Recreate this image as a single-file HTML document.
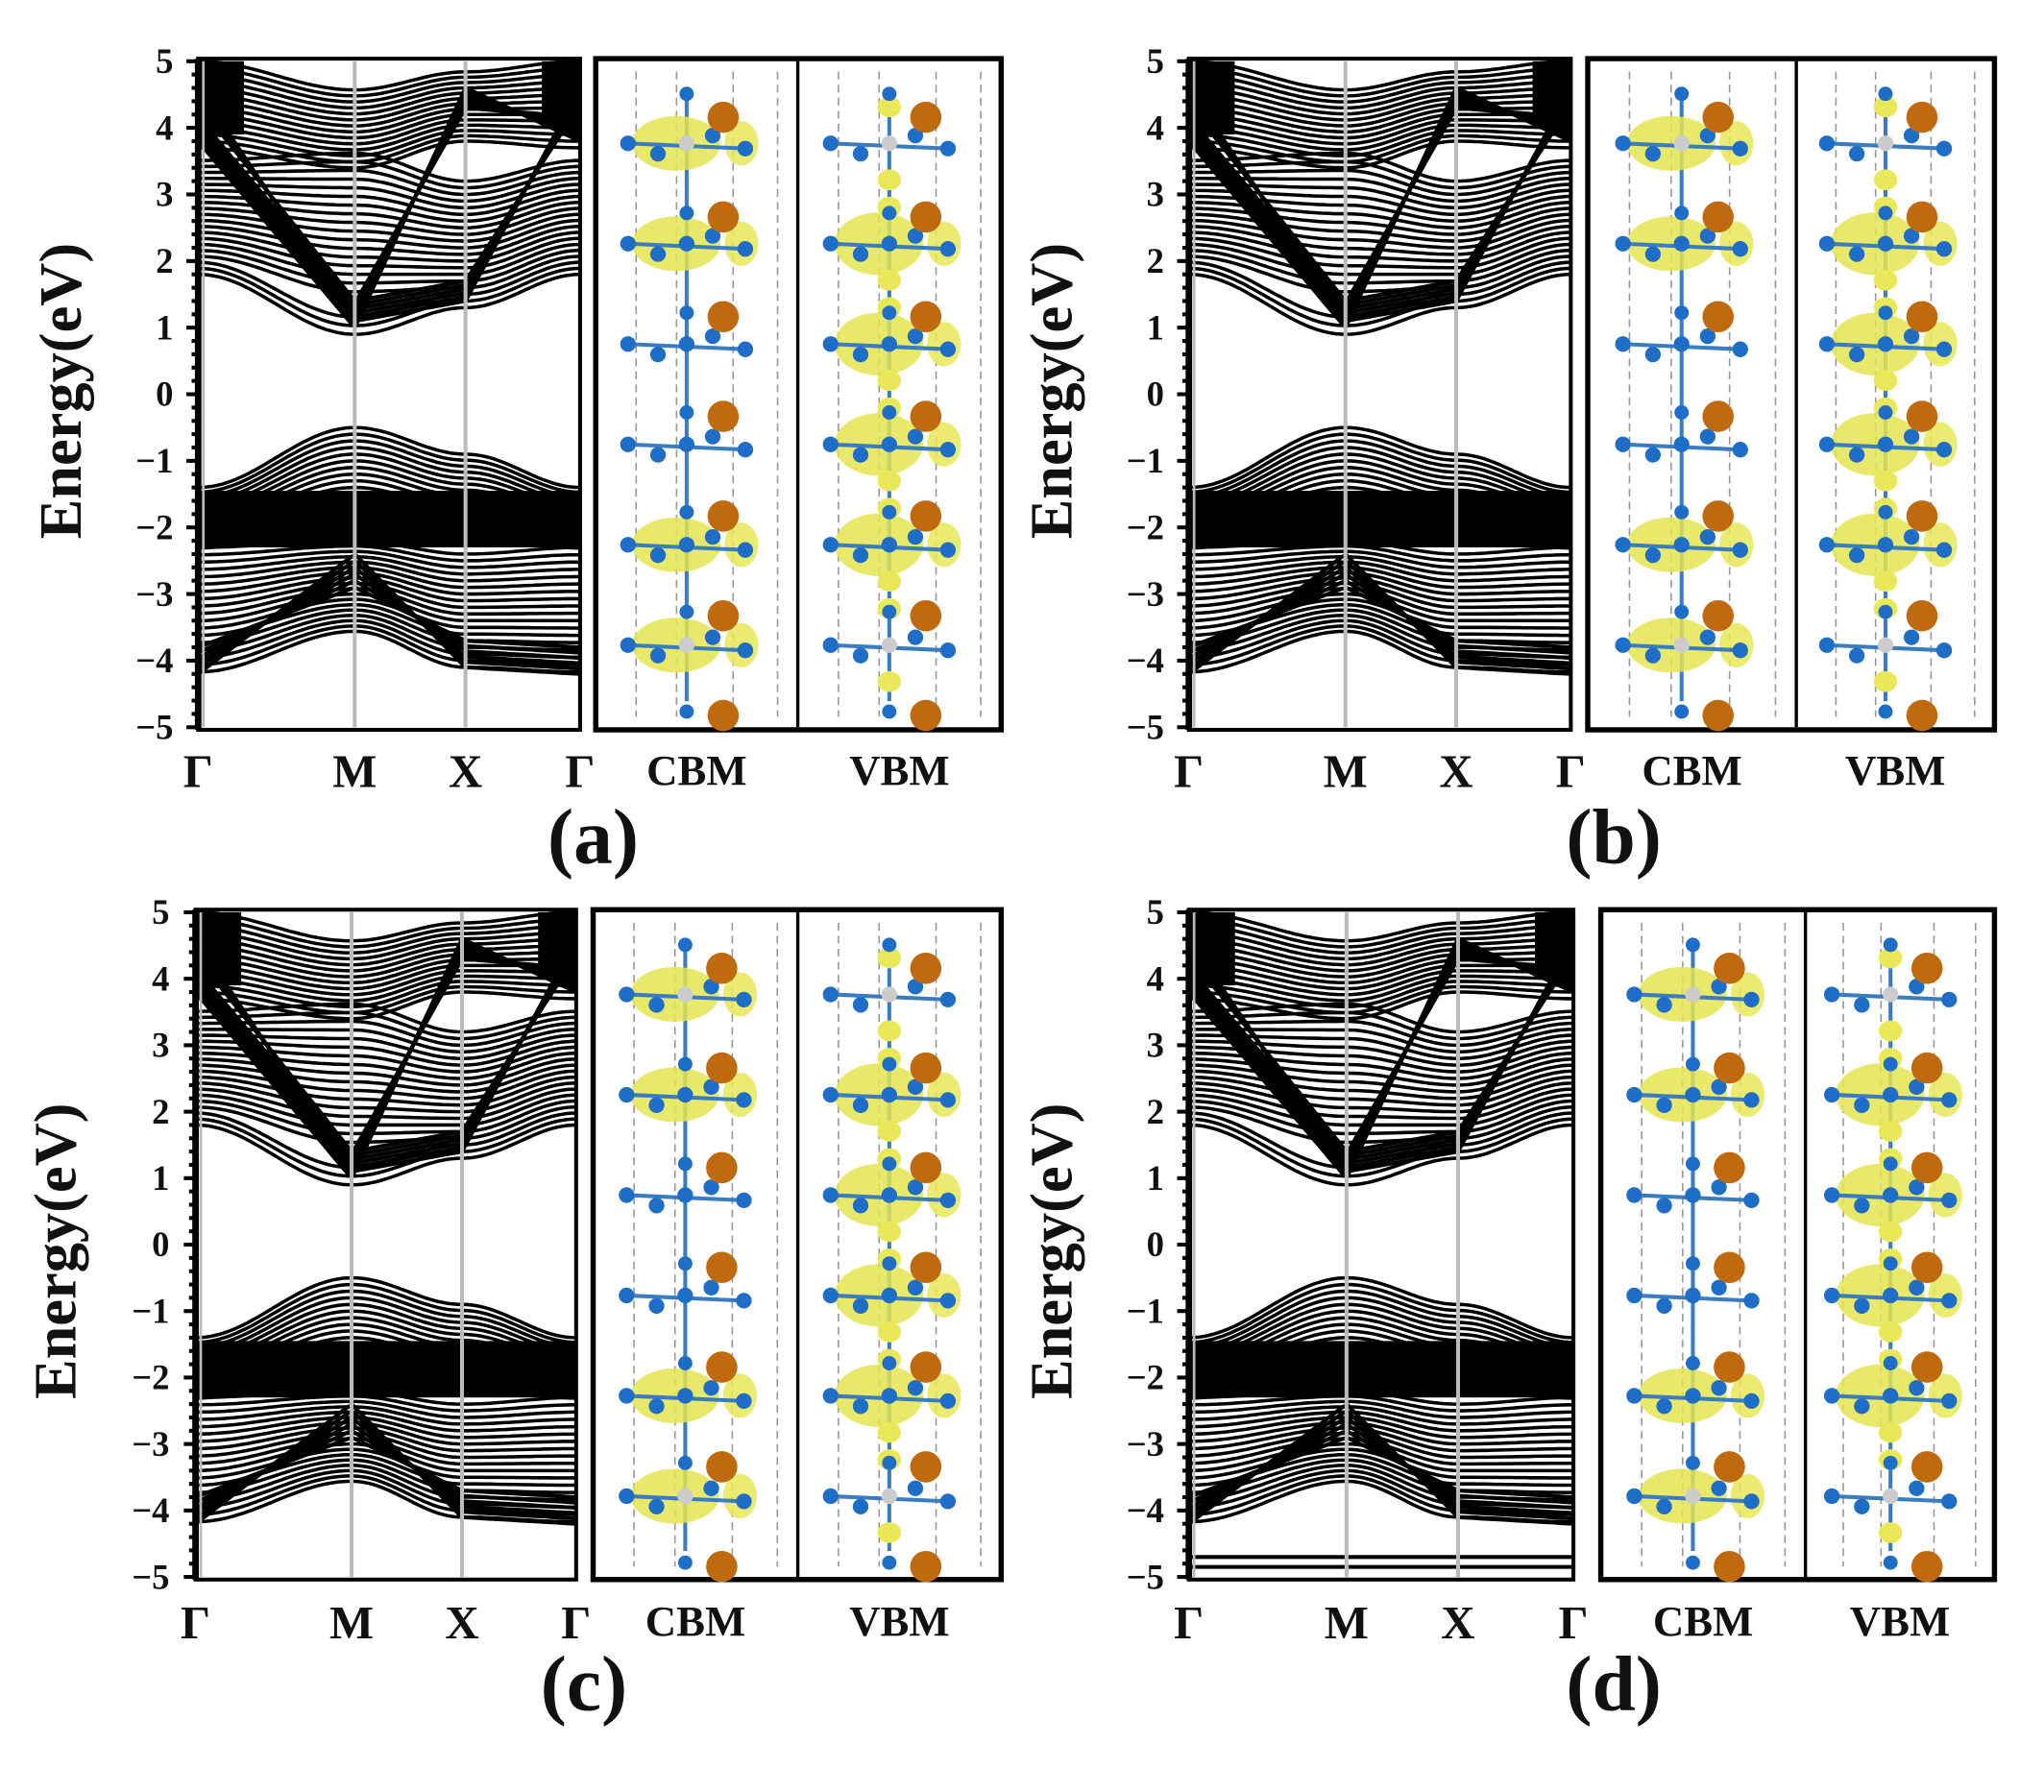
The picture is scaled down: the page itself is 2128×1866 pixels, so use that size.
<!DOCTYPE html>
<html><head><meta charset="utf-8"><style>
html,body{margin:0;padding:0;background:#fff;}
svg{display:block;}
text{font-family:"Liberation Serif","Times New Roman",serif;font-weight:bold;fill:#111;}
</style></head><body>
<svg id="s" width="2128" height="1866" viewBox="0 0 1568 1375" preserveAspectRatio="none" xmlns="http://www.w3.org/2000/svg">
<rect width="1568" height="1375" fill="#fff"/>
<g id="g"></g>
</svg>
<script>
const NS="http://www.w3.org/2000/svg";
const g=document.getElementById('g');
function el(t,a,txt){const e=document.createElementNS(NS,t);for(const k in a)e.setAttribute(k,a[k]);if(txt!==undefined)e.textContent=txt;g.appendChild(e);return e;}
const P=[
 {x0:152,x1:445,y0:47,y1:558,b0:457,b1:768,dv:612,ly:592,L:'a',lx:455,lyy:650,ex:62,ey:300,tx:133},
 {x0:912,x1:1205,y0:47,y1:558,b0:1218,b1:1530,dv:1378,ly:592,L:'b',lx:1238,lyy:650,ex:822,ey:300,tx:893},
 {x0:150,x1:442,y0:700,y1:1210,b0:455,b1:768,dv:612,ly:1245,L:'c',lx:448,lyy:1300,ex:58,ey:960,tx:130},
 {x0:912,x1:1207,y0:700,y1:1210,b0:1228,b1:1530,dv:1385,ly:1245,L:'d',lx:1238,lyy:1300,ex:822,ey:960,tx:893}
];
function interp(t,a,b,c){const km=.41,kx=.70;let u,p,q;
  if(t<=km){u=t/km;p=a;q=b;}else if(t<=kx){u=(t-km)/(kx-km);p=b;q=c;}else{u=(t-kx)/(1-kx);p=c;q=a;}
  const s=(1-Math.cos(Math.PI*u))/2;return p+(q-p)*s;}
function lin(t,a,b,c){const km=.41,kx=.70;let u,p,q;
  if(t<=km){u=t/km;p=a;q=b;}else if(t<=kx){u=(t-km)/(kx-km);p=b;q=c;}else{u=(t-kx)/(1-kx);p=c;q=a;}
  return p+(q-p)*u;}
function band(p,f,w){const Y=e=>p.y0+(5-e)*(p.y1-p.y0)/10;let d='';
  for(let i=0;i<=80;i++){const t=i/80;let e=f(t);e=Math.max(-5,Math.min(5,e));
    d+=(i?'L':'M')+(p.x0+t*(p.x1-p.x0)).toFixed(1)+' '+Y(e).toFixed(1);}
  el('path',{d:d,fill:'none',stroke:'#000','stroke-width':w||2.6});}
P.forEach((p,pi)=>{
  const W=p.x1-p.x0,Y=e=>p.y0+(5-e)*(p.y1-p.y0)/10;
  // dense top near Γ
  for(let n=0;n<14;n++){const a=3.7+n*0.1,b=3.4+n*0.09,c=3.8+n*0.08;band(p,t=>interp(t,a,b,c),2.6);}
  el('rect',{x:p.x0,y:Y(5),width:W*0.12,height:Y(3.9)-Y(5),fill:'#000'});
  el('rect',{x:p.x0+W*0.9,y:Y(5),width:W*0.1,height:Y(4.0)-Y(5),fill:'#000'});
  // conduction bands
  for(let n=0;n<20;n++){const a=1.8+n*0.09,b=0.9+n*0.13+(n>2?0.25:0),c=1.3+n*0.1;band(p,t=>interp(t,a,b,c));}
  for(let n=0;n<7;n++){band(p,t=>lin(t,3.8+n*0.06,1.0+n*0.06,4.6-n*0.05),3);}
  for(let n=0;n<6;n++){band(p,t=>lin(t,4.6-n*0.05,1.1+n*0.06,1.4+n*0.06),3);}
  // valence bands
  for(let n=0;n<14;n++){const a=-1.4-n*0.07,b=-0.5-n*0.1,c=-0.9-n*0.09;band(p,t=>interp(t,a,b,c));}
  el('rect',{x:p.x0,y:Y(-1.45),width:W,height:Y(-2.3)-Y(-1.45),fill:'#000'});
  for(let n=0;n<18;n++){const a=-2.3-n*0.11,b=-2.2-n*0.08,c=-2.4-n*0.1;band(p,t=>interp(t,a,b,c));}
  for(let n=0;n<6;n++){band(p,t=>lin(t,-4.2+n*0.08,-2.4-n*0.1,-4.1+n*0.08),3);}
  if(pi==3){band(p,t=>-4.7,3);band(p,t=>-4.85,3);}
  [0.41,0.70].forEach(k=>el('line',{x1:p.x0+k*W,x2:p.x0+k*W,y1:p.y0,y2:p.y1,stroke:'#bbb','stroke-width':3}));
  el('line',{x1:p.x0+4,x2:p.x0+4,y1:p.y0,y2:p.y1,stroke:'#bbb','stroke-width':2});
  el('rect',{x:p.x0,y:p.y0-2,width:W,height:p.y1-p.y0+4,fill:'none',stroke:'#000','stroke-width':3});
  el('line',{x1:p.x0,x2:p.x0,y1:p.y0-2,y2:p.y1+2,stroke:'#000','stroke-width':5});
  for(let e=-5;e<=5.001;e+=0.2){const y=Y(e);const maj=Math.abs(e-Math.round(e))<0.01;
    el('line',{x1:p.x0-(maj?9:5),x2:p.x0,y1:y,y2:y,stroke:'#000','stroke-width':3});}
  for(let e=-5;e<=5;e++){el('text',{x:p.tx,y:Y(e)+9,'font-size':27,'text-anchor':'end'},(e<0?'−':'')+Math.abs(e));}
  el('text',{x:p.ex,y:p.ey,'font-size':46,'text-anchor':'middle',transform:`rotate(-90 ${p.ex} ${p.ey})`},'Energy(eV)');
  [[0,'Γ'],[0.41,'M'],[0.70,'X'],[1,'Γ']].forEach(([k,s])=>el('text',{x:p.x0+k*W,y:p.ly+12,'font-size':36,'text-anchor':'middle'},s));
  el('rect',{x:p.b0,y:p.y0-2,width:p.b1-p.b0,height:p.y1-p.y0+4,fill:'none',stroke:'#000','stroke-width':4});
  el('line',{x1:p.dv,x2:p.dv,y1:p.y0,y2:p.y1,stroke:'#000','stroke-width':2.5});
  [[p.b0,p.dv,'CBM',0],[p.dv,p.b1,'VBM',1]].forEach(([a,b,lab,v])=>{
    const w=b-a,cx=a+w*0.45;
    [0.2,0.4,0.68,0.9].forEach(f=>el('line',{x1:a+f*w,x2:a+f*w,y1:p.y0+8,y2:p.y1-8,stroke:'#999','stroke-width':1.2,'stroke-dasharray':'6 4'}));
    el('line',{x1:cx,x2:cx,y1:p.y0+25,y2:p.y1-20,stroke:'#3a7cc0','stroke-width':3});
    const step=77;
    for(let i=0;i<6;i++){const y=p.y0+63+i*step;
      const blob=v?(i>0&&i<5):(i==0||i==1||i==4||i==5);
      if(blob){el('ellipse',{cx:cx-8,cy:y,rx:34,ry:v?24:21,fill:'#e4e450',opacity:0.85});
        el('ellipse',{cx:cx+42,cy:y,rx:13,ry:17,fill:'#e8e858',opacity:0.85});}
      if(v){el('ellipse',{cx:cx,cy:y-28,rx:9,ry:8,fill:'#e8e858'});el('ellipse',{cx:cx,cy:y+28,rx:9,ry:8,fill:'#e8e858'});}
      el('line',{x1:cx-45,x2:cx+45,y1:y,y2:y+4,stroke:'#3a7cc0','stroke-width':3});
      [[-45,0],[-22,8],[20,-6],[45,4]].forEach(([dx,dy])=>el('circle',{cx:cx+dx,cy:y+dy,r:6,fill:'#1e6ec8'}));
      el('circle',{cx:cx,cy:y,r:6,fill:(i==0||i==5)?'#ccc':'#1e6ec8'});
    }
    for(let i=0;i<7;i++){el('circle',{cx:cx+28,cy:p.y0+43+i*76.5,r:12,fill:'#c06a10'});
      el('circle',{cx:cx,cy:p.y0+40+i*76.5+(i==0?-15:0),r:5.5,fill:'#1e6ec8'});}
    el('text',{x:a+w/2,y:p.ly+10,'font-size':33,'text-anchor':'middle'},lab);
  });
  el('text',{x:p.lx,y:p.lyy+12,'font-size':60,'text-anchor':'middle'},'('+p.L+')');
});
</script>
</body></html>
